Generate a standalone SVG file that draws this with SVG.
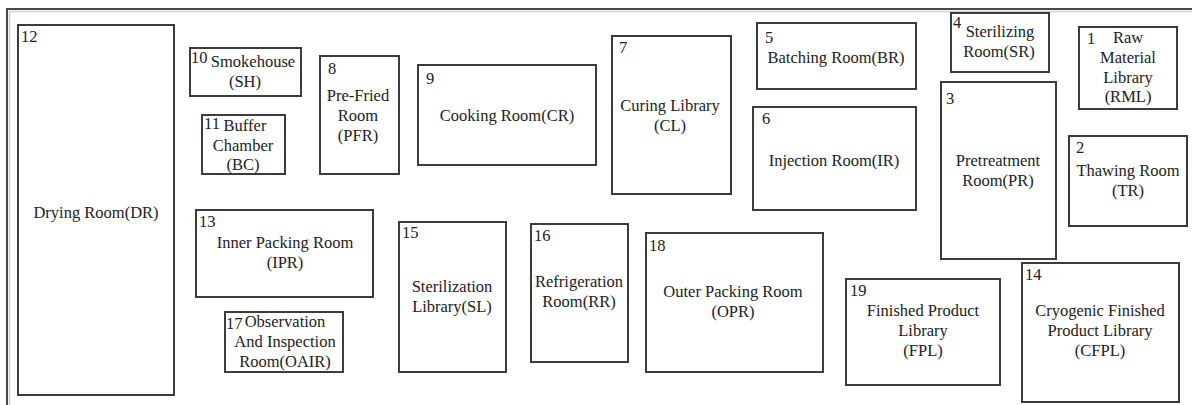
<svg xmlns="http://www.w3.org/2000/svg" width="1192" height="405" viewBox="0 0 1192 405" font-family="'Liberation Serif', 'DejaVu Serif', serif" font-size="16.5">
  <style>
    .room { fill: #ffffff; stroke: #3c3c3c; stroke-width: 2; }
    .frame { fill: none; stroke: #4a4a4a; stroke-width: 2; }
    .frame2 { fill: none; stroke: #d0d0d0; stroke-width: 1.5; }
    .t { fill: #222222; }
    .c { text-anchor: middle; }
  </style>
  <rect width="1192" height="405" fill="#ffffff"/>

  <!-- building outline -->
  <g id="outline">
    <path class="frame2" d="M9.5,405 V11.5 H1192"/>
    <path class="frame" d="M7,405 V9 H1192"/>
  </g>

  <g class="t">
  <g id="room-12">
    <rect class="room" x="18" y="25" width="156" height="370"/>
    <text x="21" y="42">12</text>
    <text class="c" x="96" y="218">Drying Room(DR)</text>
  </g>

  <g id="room-10">
    <rect class="room" x="190" y="48" width="111" height="48"/>
    <text x="191" y="63">10</text>
    <text class="c" x="253" y="67">Smokehouse</text>
    <text class="c" x="245" y="87">(SH)</text>
  </g>

  <g id="room-11">
    <rect class="room" x="202" y="115" width="83" height="59"/>
    <text x="204" y="129">11</text>
    <text class="c" x="245" y="131">Buffer</text>
    <text class="c" x="243" y="151">Chamber</text>
    <text class="c" x="243" y="170">(BC)</text>
  </g>

  <g id="room-8">
    <rect class="room" x="320" y="56" width="79" height="118"/>
    <text x="328" y="74">8</text>
    <text class="c" x="358" y="101">Pre-Fried</text>
    <text class="c" x="358" y="121">Room</text>
    <text class="c" x="358" y="141">(PFR)</text>
  </g>

  <g id="room-9">
    <rect class="room" x="418" y="65" width="178" height="100"/>
    <text x="426" y="84">9</text>
    <text class="c" x="507" y="121">Cooking Room(CR)</text>
  </g>

  <g id="room-7">
    <rect class="room" x="612" y="36" width="119" height="158"/>
    <text x="619" y="53">7</text>
    <text class="c" x="670" y="111">Curing Library</text>
    <text class="c" x="670" y="131">(CL)</text>
  </g>

  <g id="room-5">
    <rect class="room" x="757" y="23" width="159" height="66"/>
    <text x="765" y="43">5</text>
    <text class="c" x="836" y="63">Batching Room(BR)</text>
  </g>

  <g id="room-6">
    <rect class="room" x="753" y="107" width="163" height="103"/>
    <text x="762" y="124">6</text>
    <text class="c" x="834" y="166">Injection Room(IR)</text>
  </g>

  <g id="room-4">
    <rect class="room" x="951" y="13" width="98" height="59"/>
    <text x="953" y="28">4</text>
    <text class="c" x="1000" y="37">Sterilizing</text>
    <text class="c" x="999" y="57">Room(SR)</text>
  </g>

  <g id="room-1">
    <rect class="room" x="1079" y="27" width="98" height="82"/>
    <text x="1087" y="44">1</text>
    <text class="c" x="1128" y="43">Raw</text>
    <text class="c" x="1128" y="63">Material</text>
    <text class="c" x="1128" y="83">Library</text>
    <text class="c" x="1128" y="102">(RML)</text>
  </g>

  <g id="room-3">
    <rect class="room" x="941" y="82" width="115" height="177"/>
    <text x="946" y="104">3</text>
    <text class="c" x="998" y="166">Pretreatment</text>
    <text class="c" x="998" y="186">Room(PR)</text>
  </g>

  <g id="room-2">
    <rect class="room" x="1069" y="136" width="118" height="90"/>
    <text x="1076" y="153">2</text>
    <text class="c" x="1128" y="176">Thawing Room</text>
    <text class="c" x="1128" y="196">(TR)</text>
  </g>

  <g id="room-13">
    <rect class="room" x="196" y="210" width="177" height="87"/>
    <text x="199" y="227">13</text>
    <text class="c" x="285" y="248">Inner Packing Room</text>
    <text class="c" x="285" y="268">(IPR)</text>
  </g>

  <g id="room-17">
    <rect class="room" x="225" y="312" width="118" height="60"/>
    <text x="226" y="329">17</text>
    <text class="c" x="285" y="327">Observation</text>
    <text class="c" x="285" y="347">And Inspection</text>
    <text class="c" x="285" y="367">Room(OAIR)</text>
  </g>

  <g id="room-15">
    <rect class="room" x="399" y="222" width="107" height="150"/>
    <text x="402" y="238">15</text>
    <text class="c" x="452" y="292">Sterilization</text>
    <text class="c" x="452" y="312">Library(SL)</text>
  </g>

  <g id="room-16">
    <rect class="room" x="531" y="224" width="97" height="138"/>
    <text x="534" y="241">16</text>
    <text class="c" x="579" y="287">Refrigeration</text>
    <text class="c" x="579" y="307">Room(RR)</text>
  </g>

  <g id="room-18">
    <rect class="room" x="646" y="233" width="177" height="139"/>
    <text x="649" y="251">18</text>
    <text class="c" x="733" y="297">Outer Packing Room</text>
    <text class="c" x="733" y="317">(OPR)</text>
  </g>

  <g id="room-19">
    <rect class="room" x="846" y="279" width="154" height="106"/>
    <text x="850" y="296">19</text>
    <text class="c" x="923" y="316">Finished Product</text>
    <text class="c" x="923" y="336">Library</text>
    <text class="c" x="923" y="356">(FPL)</text>
  </g>

  <g id="room-14">
    <rect class="room" x="1022" y="263" width="157" height="139"/>
    <text x="1025" y="280">14</text>
    <text class="c" x="1100" y="316">Cryogenic Finished</text>
    <text class="c" x="1100" y="336">Product Library</text>
    <text class="c" x="1100" y="356">(CFPL)</text>
  </g>
  </g>

  <!-- the plan has no connectors between rooms -->
  <g id="connectors"/>
</svg>
